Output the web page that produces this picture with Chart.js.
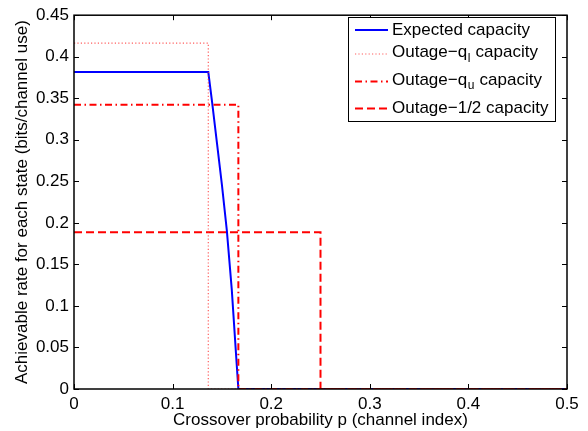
<!DOCTYPE html>
<html>
<head>
<meta charset="utf-8">
<script src="https://cdn.jsdelivr.net/npm/chart.js@4/dist/chart.umd.min.js"></script>
<style>
    html, body { margin: 0; padding: 0; background: #fff; }
    canvas { display: block; }
</style>
</head>
<body>
<canvas id="rateChart" width="588" height="431"></canvas>
<script>
// Data
const expP = [0, 0.1362, 0.14, 0.145, 0.15, 0.155, 0.16, 0.165, 0.1667, 0.5];
const expRate = [0.3815, 0.3815, 0.346, 0.296, 0.246, 0.191, 0.12, 0.03, 0, 0];

const qlP = [0, 0.1362, 0.1362, 0.5];
const qlRate = [0.4164, 0.4164, 0, 0];

const quP = [0, 0.1667, 0.1667, 0.5];
const quRate = [0.3423, 0.3423, 0, 0];

const halfP = [0, 0.25, 0.25, 0.5];
const halfRate = [0.1888, 0.1888, 0, 0];

const xTicks = [0, 0.1, 0.2, 0.3, 0.4, 0.5];
const yTicks = [0, 0.05, 0.1, 0.15, 0.2, 0.25, 0.3, 0.35, 0.4, 0.45];

// legend text: [main, subscript, rest]
const legendLabels = [
    ["Expected capacity", "", ""],
    ["Outage\u2212q", "l", " capacity"],
    ["Outage\u2212q", "u", " capacity"],
    ["Outage\u22121/2 capacity", "", ""]
];

const FONT = "Liberation Sans, Arial, Helvetica, sans-serif";

function pts(xs, ys) {
    return xs.map((x, i) => ({ x: x, y: ys[i] }));
}

function fmt(v) {
    return String(+v.toFixed(2));
}

// Box + inward ticks on all four sides (MATLAB look)
const boxTicks = {
    id: "boxTicks",
    afterDatasetsDraw(chart) {
        const ctx = chart.ctx;
        const a = chart.chartArea;
        const xs = chart.scales.x;
        const ys = chart.scales.y;
        const len = 5;
        ctx.save();
        ctx.strokeStyle = "#000";
        ctx.lineWidth = 1;
        ctx.beginPath();
        xTicks.forEach(v => {
            const px = Math.round(xs.getPixelForValue(v)) + 0.5;
            ctx.moveTo(px, a.bottom); ctx.lineTo(px, a.bottom - len);
            ctx.moveTo(px, a.top); ctx.lineTo(px, a.top + len);
        });
        yTicks.forEach(v => {
            const py = Math.round(ys.getPixelForValue(v)) + 0.5;
            ctx.moveTo(a.left, py); ctx.lineTo(a.left + len, py);
            ctx.moveTo(a.right, py); ctx.lineTo(a.right - len, py);
        });
        ctx.stroke();
        ctx.lineWidth = 1.5;
        ctx.strokeRect(a.left, a.top, a.right - a.left, a.bottom - a.top);
        ctx.restore();
    }
};

// Legend box in the upper right, drawn by hand for the subscripts
const matLegend = {
    id: "matLegend",
    afterDraw(chart) {
        const ctx = chart.ctx;
        const bx = 348, by = 17, bw = 207, bh = 104;
        const lineY = [30, 54, 81.5, 108.5];
        const textY = [30, 52.5, 80, 108];
        ctx.save();
        ctx.fillStyle = "#fff";
        ctx.fillRect(bx, by, bw, bh);
        ctx.strokeStyle = "#000";
        ctx.lineWidth = 1;
        ctx.strokeRect(bx + 0.5, by + 0.5, bw, bh);

        chart.data.datasets.forEach((ds, i) => {
            ctx.save();
            ctx.strokeStyle = ds.borderColor;
            ctx.lineWidth = ds.borderWidth;
            ctx.setLineDash(ds.borderDash || []);
            ctx.beginPath();
            ctx.moveTo(355, lineY[i]);
            ctx.lineTo(388, lineY[i]);
            ctx.stroke();
            ctx.restore();

            const [main, sub, rest] = legendLabels[i];
            let x = 392;
            ctx.fillStyle = "#000";
            ctx.textBaseline = "middle";
            ctx.font = "17px " + FONT;
            ctx.fillText(main, x, textY[i]);
            x += ctx.measureText(main).width;
            if (sub) {
                ctx.font = "12px " + FONT;
                ctx.fillText(sub, x + 0.5, textY[i] + 6);
                x += ctx.measureText(sub).width + 1;
                ctx.font = "17px " + FONT;
                ctx.fillText(rest, x, textY[i]);
            }
        });
        ctx.restore();
    }
};

new Chart(document.getElementById("rateChart"), {
    type: "line",
    data: {
        datasets: [
            {
                label: "Expected capacity",
                data: pts(expP, expRate),
                borderColor: "#0000ff",
                borderWidth: 2,
                order: 1
            },
            {
                label: "Outage-ql capacity",
                data: pts(qlP, qlRate),
                borderColor: "rgba(255,40,40,0.75)",
                borderWidth: 1.2,
                borderDash: [1.2, 2.2],
                order: 0
            },
            {
                label: "Outage-qu capacity",
                data: pts(quP, quRate),
                borderColor: "#ff0000",
                borderWidth: 2,
                borderDash: [7, 3.5, 1.5, 3.5],
                order: 0
            },
            {
                label: "Outage-1/2 capacity",
                data: pts(halfP, halfRate),
                borderColor: "#ff0000",
                borderWidth: 2,
                borderDash: [8, 4],
                order: 0
            }
        ]
    },
    options: {
        responsive: false,
        devicePixelRatio: 1,
        animation: false,
        events: [],
        layout: { padding: { top: 10, right: 21, left: 0, bottom: 0 } },
        elements: {
            point: { radius: 0 },
            line: { tension: 0, fill: false }
        },
        plugins: {
            legend: { display: false },
            tooltip: { enabled: false }
        },
        scales: {
            x: {
                type: "linear",
                min: 0,
                max: 0.5,
                afterBuildTicks: s => { s.ticks = xTicks.map(v => ({ value: v })); },
                afterFit: s => { s.height = 42; },
                grid: { display: false, drawTicks: false },
                border: { display: false },
                ticks: {
                    padding: 5,
                    color: "#000",
                    font: { family: FONT, size: 17 },
                    maxRotation: 0,
                    callback: v => fmt(v)
                },
                title: {
                    display: true,
                    text: "Crossover probability p (channel index)",
                    color: "#000",
                    font: { family: FONT, size: 17 },
                    padding: { top: 0, bottom: 0 }
                }
            },
            y: {
                type: "linear",
                min: 0,
                max: 0.45,
                afterBuildTicks: s => { s.ticks = yTicks.map(v => ({ value: v })); },
                afterFit: s => { s.width = 74; },
                grid: { display: false, drawTicks: false },
                border: { display: false },
                ticks: {
                    padding: 5,
                    color: "#000",
                    font: { family: FONT, size: 17 },
                    callback: v => fmt(v)
                },
                title: {
                    display: true,
                    text: "Achievable rate for each state (bits/channel use)",
                    color: "#000",
                    font: { family: FONT, size: 17 },
                    padding: { top: 12, bottom: 0 }
                }
            }
        }
    },
    plugins: [boxTicks, matLegend]
});
</script>
</body>
</html>
